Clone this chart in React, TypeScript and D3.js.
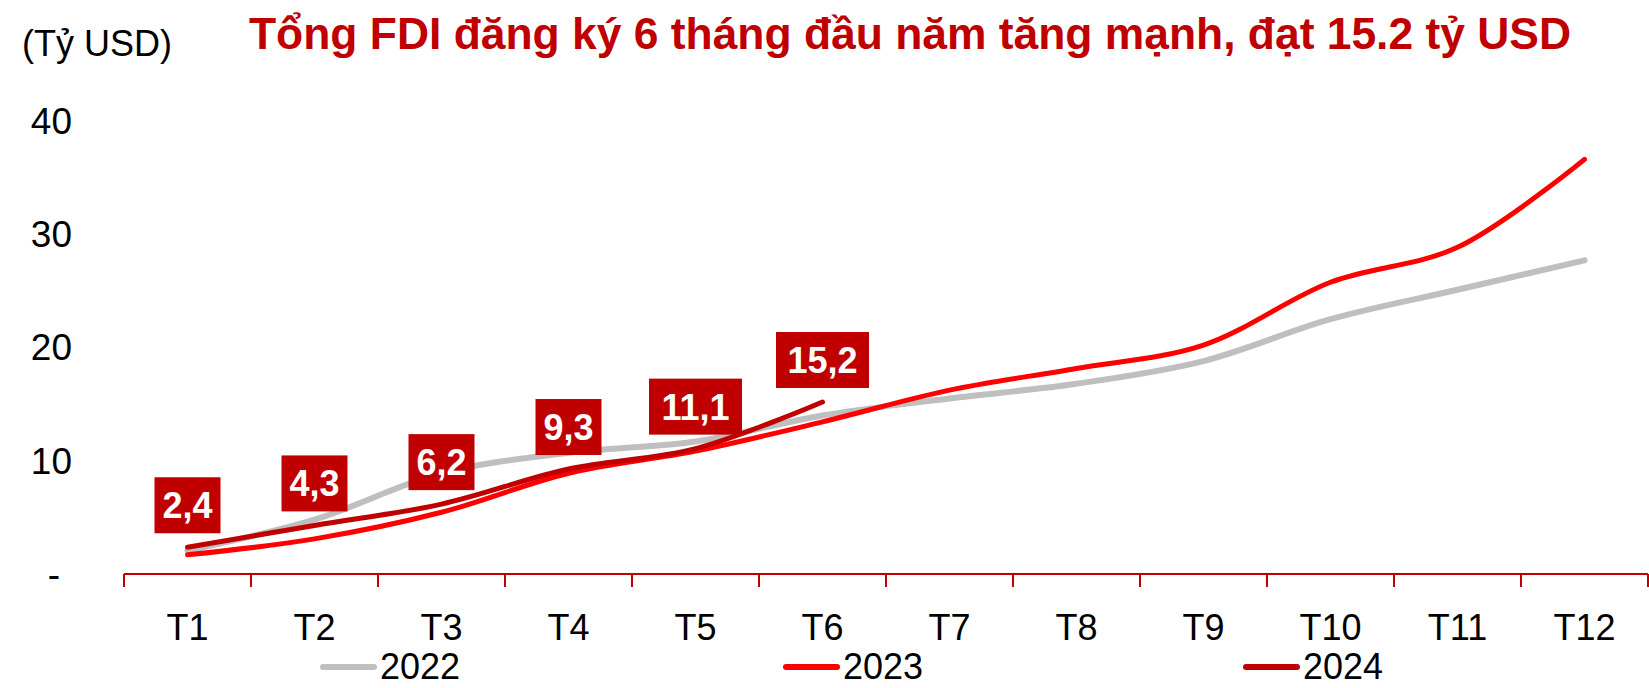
import React from 'react';
import * as d3 from 'd3';

// Tổng FDI đăng ký lũy kế theo tháng (tỷ USD)
const months = ['T1', 'T2', 'T3', 'T4', 'T5', 'T6', 'T7', 'T8', 'T9', 'T10', 'T11', 'T12'];
const fdi2022 = [2.07, 4.8, 8.9, 10.7, 11.7, 14.0, 15.5, 16.8, 18.8, 22.5, 25.1, 27.7];
const fdi2023 = [1.69, 3.1, 5.45, 8.9, 10.86, 13.43, 16.24, 18.15, 20.21, 25.76, 28.85, 36.61];
const fdi2024 = [2.36, 4.29, 6.17, 9.27, 11.07, 15.19];
const labels2024 = ['2,4', '4,3', '6,2', '9,3', '11,1', '15,2'];
const yTicks = [0, 10, 20, 30, 40];
const legendNames = ['2022', '2023', '2024'];

const W = 1649;
const H = 688;
const FONT = "'Liberation Sans', Arial, sans-serif";
const DARK = '#C00000';

const series = [
  { name: '2022', values: fdi2022, color: '#BFBFBF', width: 6 },
  { name: '2023', values: fdi2023, color: '#FF0000', width: 5 },
  { name: '2024', values: fdi2024, color: DARK, width: 5 },
];

export default function App() {
  const x = d3.scaleBand<string>().domain(months).range([124, 1648]).padding(0);
  const y = d3.scaleLinear().domain([0, 40]).range([574, 121]);
  const cx = (i: number) => (x(months[i]) as number) + x.bandwidth() / 2;

  const line = d3
    .line<number>()
    .x((_, i) => cx(i))
    .y((d) => y(d))
    .curve(d3.curveCatmullRom.alpha(0.5));

  const boundaries = months.map((m) => x(m) as number).concat([x.range()[1]]);

  return (
    <svg
      width={W}
      height={H}
      style={{ position: 'absolute', left: 0, top: 0, background: '#fff' }}
      fontFamily={FONT}
    >
      {/* title */}
      <text x={249} y={49} fontSize={44} fontWeight="bold" fill={DARK} textLength={1322} lengthAdjust="spacingAndGlyphs">
        Tổng FDI đăng ký 6 tháng đầu năm tăng mạnh, đạt 15.2 tỷ USD
      </text>
      <text x={22} y={56} fontSize={36} fill="#000">
        (Tỷ USD)
      </text>

      {/* y labels */}
      {yTicks.map((t) =>
        t === 0 ? (
          <text key={t} x={54} y={y(t)} dy="0.35em" fontSize={37} textAnchor="middle">
            -
          </text>
        ) : (
          <text key={t} x={72} y={y(t)} dy="0.35em" fontSize={37} textAnchor="end">
            {t}
          </text>
        )
      )}

      {/* x axis */}
      <line x1={x.range()[0]} x2={x.range()[1]} y1={y(0)} y2={y(0)} stroke={DARK} strokeWidth={2} />
      {boundaries.map((b, i) => (
        <line key={i} x1={b} x2={b} y1={y(0)} y2={y(0) + 13} stroke={DARK} strokeWidth={2} />
      ))}
      {months.map((m, i) => (
        <text key={m} x={cx(i)} y={640} fontSize={36} textAnchor="middle">
          {m}
        </text>
      ))}

      {/* lines */}
      {series.map((s) => (
        <path
          key={s.name}
          d={line(s.values) || ''}
          fill="none"
          stroke={s.color}
          strokeWidth={s.width}
          strokeLinecap="round"
          strokeLinejoin="round"
        />
      ))}

      {/* data labels 2024 */}
      {fdi2024.map((v, i) => {
        const w = labels2024[i].length > 3 ? 93 : 66;
        const h = 56;
        const bottom = y(v) - 14;
        return (
          <g key={i}>
            <rect x={cx(i) - w / 2} y={bottom - h} width={w} height={h} fill={DARK} />
            <text x={cx(i)} y={bottom - h / 2} dy="0.36em" fontSize={36} fontWeight="bold" fill="#fff" textAnchor="middle">
              {labels2024[i]}
            </text>
          </g>
        );
      })}

      {/* legend */}
      {legendNames.map((n, i) => {
        const lx = [320, 783, 1243][i];
        return (
          <g key={n}>
            <line x1={lx + 3} x2={lx + 54} y1={667} y2={667} stroke={series[i].color} strokeWidth={6} strokeLinecap="round" />
            <text x={lx + 60} y={679} fontSize={36}>
              {n}
            </text>
          </g>
        );
      })}
    </svg>
  );
}
